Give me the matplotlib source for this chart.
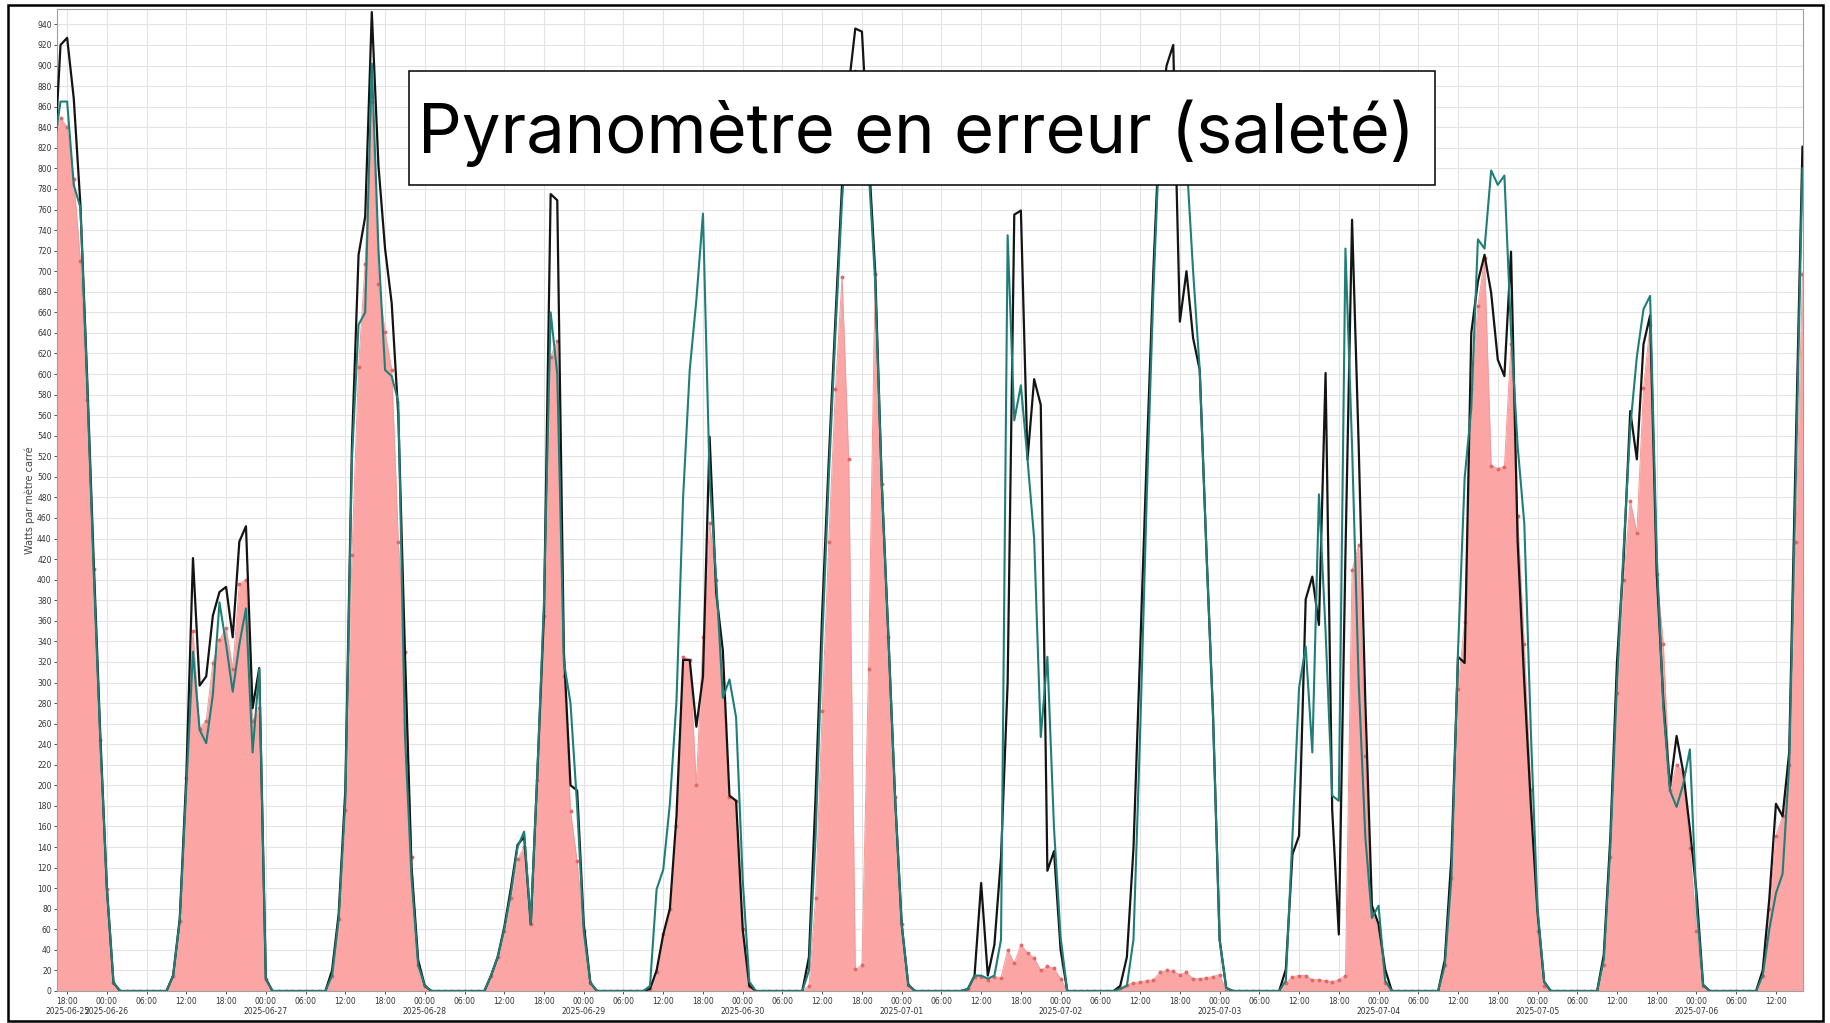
import numpy as np
import pandas as pd
import matplotlib
matplotlib.use("Agg")
import matplotlib.pyplot as plt
import matplotlib.dates as mdates
import matplotlib.font_manager as fm
from matplotlib.patches import Rectangle
from matplotlib.textpath import TextPath
from matplotlib.font_manager import FontProperties

# ---------------- data (hourly, from 2025-06-25 16:00 to 2025-07-06 16:00) ----------------
start_time = "2025-06-25 16:00"

black_vals = (
    [800, 920, 927, 868, 765, 600, 420, 250] +                                   # 06-25 16..23
    [100, 8] + [0]*8 + [15, 70, 210, 421, 297, 306, 365, 388, 393, 344, 437, 452, 275, 314] +   # 06-26
    [12] + [0]*9 + [20, 75, 195, 530, 716, 753, 952, 803, 722, 669, 560, 330, 120, 30] +        # 06-27
    [5] + [0]*9 + [15, 33, 62, 100, 142, 150, 65, 213, 368, 775, 769, 330, 200, 195] +          # 06-28
    [65, 8] + [0]*8 + [2, 20, 55, 80, 170, 322, 322, 257, 306, 539, 387, 331, 190, 185] +       # 06-29
    [60, 5] + [0]*8 + [33, 189, 368, 517, 654, 784, 880, 936, 933, 815, 700, 493, 344, 189] +   # 06-30
    [65, 6] + [0]*8 + [2, 15, 105, 15, 45, 130, 300, 755, 759, 517, 595, 570, 117, 136] +       # 07-01
    [40] + [0]*8 + [5, 33, 139, 330, 520, 700, 850, 900, 920, 651, 700, 635, 604, 430, 270] +   # 07-02
    [50, 3] + [0]*8 + [21, 133, 151, 381, 403, 356, 601, 176, 55, 424, 750, 530, 282, 83] +     # 07-03
    [65, 21] + [0]*8 + [30, 130, 325, 319, 640, 690, 716, 679, 614, 598, 719, 437, 300, 180] +  # 07-04
    [77, 9] + [0]*8 + [35, 150, 320, 420, 564, 517, 629, 657, 406, 282, 198, 248, 213, 158] +   # 07-05
    [96, 6] + [0]*8 + [20, 90, 182, 170, 232, 530, 821]                                         # 07-06
)

teal_vals = (
    [820, 865, 865, 784, 762, 595, 410, 245] +
    [100, 8] + [0]*8 + [15, 68, 200, 330, 254, 241, 288, 378, 337, 291, 337, 372, 232, 313] +
    [12] + [0]*9 + [15, 70, 185, 517, 648, 660, 902, 722, 604, 598, 573, 250, 110, 25] +
    [5] + [0]*9 + [15, 33, 60, 95, 140, 155, 65, 213, 380, 660, 600, 320, 280, 180] +
    [58, 8] + [0]*8 + [5, 99, 118, 182, 282, 480, 604, 672, 756, 499, 400, 285, 303, 266] +
    [108, 9] + [0]*8 + [20, 150, 340, 500, 640, 770, 860, 895, 890, 800, 690, 493, 344, 189] +
    [65, 6] + [0]*8 + [2, 15, 15, 12, 15, 50, 735, 555, 589, 517, 440, 247, 325, 158] +
    [52] + [0]*8 + [2, 5, 50, 250, 480, 680, 840, 890, 895, 870, 810, 700, 604, 430, 270] +
    [50, 3] + [0]*8 + [10, 150, 295, 335, 232, 483, 350, 190, 185, 722, 530, 300, 150, 71] +
    [83, 10] + [0]*8 + [25, 110, 331, 499, 567, 731, 722, 798, 784, 793, 641, 530, 455, 251] +
    [80, 9] + [0]*8 + [30, 140, 300, 430, 548, 617, 663, 676, 424, 275, 195, 179, 201, 235] +
    [83, 6] + [0]*8 + [15, 60, 95, 114, 220, 500, 800]
)

red_vals = (
    [830, 849, 840, 790, 710, 575, 410, 244] +
    [99, 8] + [0]*8 + [15, 68, 207, 350, 255, 263, 319, 341, 353, 313, 396, 400, 263, 275] +
    [12] + [0]*9 + [15, 70, 176, 424, 607, 707, 865, 688, 641, 604, 437, 330, 130, 25] +
    [5] + [0]*9 + [15, 33, 58, 90, 128, 140, 65, 205, 365, 617, 632, 306, 175, 126] +
    [58, 8] + [0]*8 + [2, 18, 55, 80, 160, 325, 322, 200, 344, 455, 400, 300, 189, 185] +
    [60, 5] + [0]*8 + [5, 90, 272, 437, 585, 694, 517, 21, 25, 313, 697, 493, 344, 189] +
    [65, 6] + [0]*8 + [2, 14, 14, 11, 14, 13, 40, 27, 45, 37, 32, 20, 24, 22] +
    [12] + [0]*8 + [3, 6, 8, 9, 10, 11, 18, 20, 19, 16, 18, 12, 12, 13, 14] +
    [16, 0] + [0]*8 + [8, 14, 15, 15, 11, 11, 10, 9, 11, 15, 409, 434, 229, 77] +
    [60, 8] + [0]*8 + [25, 110, 294, 359, 585, 666, 713, 511, 508, 510, 629, 462, 337, 195] +
    [58, 5] + [0]*8 + [25, 130, 290, 400, 477, 445, 586, 648, 406, 337, 195, 220, 213, 139] +
    [58, 5] + [0]*8 + [15, 80, 151, 170, 220, 437, 697]
)

y_ticks = list(range(0, 941, 20))
y_label = "Watts par mètre carré"
title_text = "Pyranomètre en erreur (saleté)"

# ---------------- figure ----------------
W, H = 1831, 1023
fig = plt.figure(figsize=(W / 100, H / 100), dpi=100)
fig.patch.set_facecolor("white")

ax_left, ax_right = 57.2, 1803
ax = fig.add_axes([ax_left / W, 1 - 991 / H, (ax_right - ax_left) / W, (991 - 9) / H])

times = pd.date_range(start_time, periods=len(black_vals), freq="h")

ax.fill_between(times, red_vals, 0, color="#fba5a5", lw=0, zorder=1)
ax.plot(times, red_vals, color="#f39a9a", lw=0.7, marker="o", ms=1.8,
        mfc="#e06a6a", mec="#e06a6a", zorder=2)
ax.plot(times, black_vals, color="#141414", lw=1.6, zorder=3)
ax.plot(times, teal_vals, color="#1e7f78", lw=1.5, zorder=4)

ax.set_xlim(pd.Timestamp("2025-06-25 16:30"), pd.Timestamp("2025-07-06 16:05"))
ax.set_ylim(0, 955)
ax.set_yticks(y_ticks)
ax.tick_params(axis="y", labelsize=5.5, colors="#333333", length=2.5, width=0.6, pad=1.5)
ax.tick_params(axis="x", labelsize=5.5, colors="#333333", length=2.5, width=0.6, pad=1.5)

ax.xaxis.set_major_locator(mdates.HourLocator(byhour=[0, 6, 12, 18]))


def fmt(x, pos):
    d = mdates.num2date(x)
    s = d.strftime("%H:%M")
    if d.hour == 0 or pos == 0:
        s += "\n" + d.strftime("%Y-%m-%d")
    return s


ax.xaxis.set_major_formatter(plt.FuncFormatter(fmt))

ax.grid(True, color="#e4e4e4", lw=0.8)
ax.set_axisbelow(True)
for sp in ax.spines.values():
    sp.set_color("#a0a0a0")
    sp.set_linewidth(0.8)

ax.set_ylabel(y_label, fontsize=7, color="#444444")
ax.yaxis.set_label_coords((35 - ax_left) / (ax_right - ax_left), 0.5)

# ---------------- title box ----------------
box = Rectangle((409 / W, 1 - 184.5 / H), (1435 - 409) / W, (184.5 - 71) / H,
                transform=fig.transFigure, facecolor="white", edgecolor="black",
                lw=1.1, zorder=10)
fig.patches.append(box)

names = {f.name for f in fm.fontManager.ttflist}
cands = []
for fam in ["Liberation Sans Narrow", "Roboto Condensed", "Open Sans Condensed",
            "Roboto", "Open Sans", "Lato", "Noto Sans", "Inter", "Liberation Sans",
            "DejaVu Sans"]:
    if fam in names:
        cands.append(FontProperties(family=fam))

target_w_pt = 985 * 72 / 100
target_cap_pt = 50 * 72 / 100
best = None
for fp in cands:
    try:
        w = TextPath((0, 0), title_text, size=50, prop=fp).get_extents().width
        cap = TextPath((0, 0), "H", size=50, prop=fp).get_extents().height
    except Exception:
        continue
    s = 50 * target_w_pt / w
    capf = cap * s / 50
    score = abs(capf - target_cap_pt)
    if best is None or score < best[0]:
        best = (score, fp, s)

_, fp_title, size = best
txt = fig.text(916.5 / W, 1 - 153 / H, title_text, ha="center", va="baseline",
               fontproperties=fp_title, color="black", zorder=11)
txt.set_fontsize(size)

# ---------------- outer frame ----------------
frame = Rectangle((8 / W, 1 - 1021 / H), (1823 - 8) / W, (1021 - 5) / H,
                  transform=fig.transFigure, facecolor="none", edgecolor="black",
                  lw=1.8, zorder=20)
fig.patches.append(frame)

fig.savefig("out.png", dpi=100, facecolor="white")
